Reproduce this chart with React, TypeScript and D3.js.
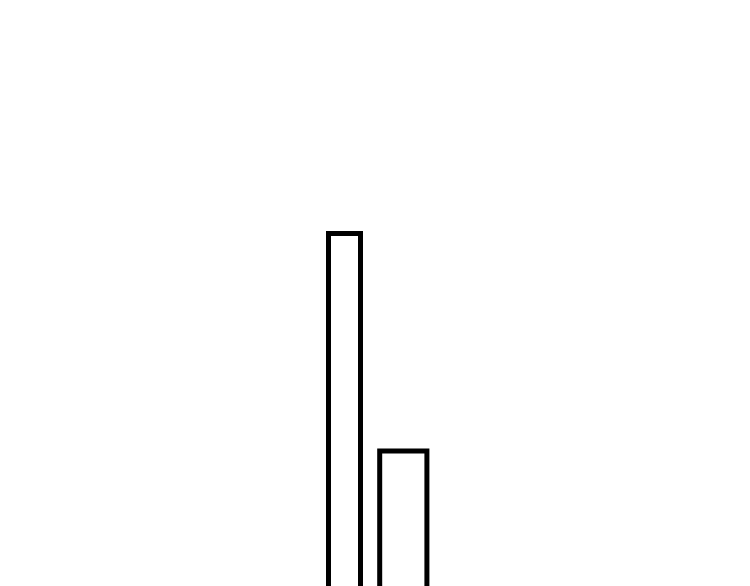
import React from "react";
import * as d3 from "d3";

// Bars: start/end on x (arbitrary units) and value height
const barNames = ["A", "B"];
const barStart = [0, 3.2];
const barEnd = [2, 6.15];
const barValues = [386.5, 169];

const W = 750;
const H = 586;

export default function App() {
  const x = d3.scaleLinear().domain([0, 2]).range([328.5, 360.5]);
  const y = d3.scaleLinear().domain([0, 400]).range([620, 220]);
  return (
    <svg
      width={W}
      height={H}
      style={{ position: "absolute", left: 0, top: 0, background: "#ffffff", overflow: "hidden" }}
    >
      <rect x={0} y={0} width={W} height={H} fill="#ffffff" />
      {barNames.map((n, i) => (
        <rect
          key={n}
          x={x(barStart[i])}
          y={y(barValues[i])}
          width={x(barEnd[i]) - x(barStart[i])}
          height={y(0) - y(barValues[i])}
          fill="#ffffff"
          stroke="#000000"
          strokeWidth={5}
        />
      ))}
    </svg>
  );
}
